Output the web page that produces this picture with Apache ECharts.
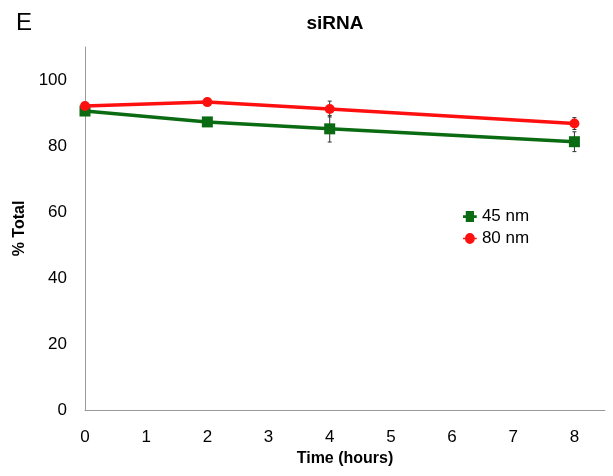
<!DOCTYPE html>
<html><head><meta charset="utf-8">
<script src="https://cdn.jsdelivr.net/npm/echarts@6/dist/echarts.min.js"></script>
<style>html,body{margin:0;padding:0;background:#fff}#c{width:613px;height:476px}</style>
</head><body><div id="c"></div>
<script>
const times = [0, 2, 4, 8];
const nm45 = [90.6, 87.3, 85.2, 81.3];
const nm45Err = [0.8, 0.6, 4.0, 3.0];
const nm80 = [92.1, 93.3, 91.2, 86.8];
const nm80Err = [0.6, 0.5, 2.4, 1.8];
const xTicks = [0,1,2,3,4,5,6,7,8];
const yTicks = [0,20,40,60,80,100];

const font = '"Liberation Sans", Arial, sans-serif';
function errSeries(vals, errs, color){
  return {
    type:'custom', silent:true, z:1,
    data: times.map((t,i)=>[t, vals[i]-errs[i], vals[i]+errs[i]]),
    renderItem:(params, api)=>{
      const lo = api.coord([api.value(0), api.value(1)]);
      const hi = api.coord([api.value(0), api.value(2)]);
      const w = 2;
      return {type:'group', children:[
        {type:'line', shape:{x1:lo[0],y1:lo[1],x2:hi[0],y2:hi[1]}, style:{stroke:color,lineWidth:1}},
        {type:'line', shape:{x1:lo[0]-w,y1:lo[1],x2:lo[0]+w,y2:lo[1]}, style:{stroke:color,lineWidth:1}},
        {type:'line', shape:{x1:hi[0]-w,y1:hi[1],x2:hi[0]+w,y2:hi[1]}, style:{stroke:color,lineWidth:1}}
      ]};
    }
  };
}
const chart = echarts.init(document.getElementById('c'), null, {renderer:'canvas'});
chart.setOption({
  animation:false,
  backgroundColor:'#fff',
  title:[
    {text:'siRNA', left:330, top:9, textAlign:'center', textStyle:{fontFamily:font, fontSize:19, fontWeight:'bold', color:'#000'}},
    {text:'E', left:11, top:6, textStyle:{fontFamily:font, fontSize:24, fontWeight:'normal', color:'#000'}}
  ],
  grid:{left:85, right:8, top:47, bottom:66},
  legend:{
    orient:'vertical', left:458, top:203, itemGap:5, itemWidth:14, itemHeight:11,
    textStyle:{fontFamily:font, fontSize:17, color:'#000'},
    data:[
      {name:'45 nm', icon:'path://M0,3 L2,3 L2,0 L8,0 L8,3 L10,3 L10,5 L8,5 L8,8 L2,8 L2,5 L0,5 Z'},
      {name:'80 nm', icon:'path://M0,3.5 L1.5,3.5 A3.5,3.5 0 1 1 8.5,3.5 L10,3.5 L10,4.5 L8.5,4.5 A3.5,3.5 0 1 1 1.5,4.5 L0,4.5 Z'}
    ]
  },
  xAxis:{
    type:'value', min:0, max:8.5, interval:1,
    name:'Time (hours)', nameLocation:'middle', nameGap:40,
    nameTextStyle:{fontFamily:font, fontSize:16, fontWeight:'bold', color:'#000'},
    axisLine:{lineStyle:{color:'#9a9a9a', width:1}},
    axisTick:{show:false}, splitLine:{show:false},
    axisLabel:{fontFamily:font, fontSize:17, color:'#000', margin:19, showMaxLabel:false,
      formatter:v=> xTicks.includes(v) ? String(v) : ''}
  },
  yAxis:{
    type:'value', min:0, max:110, interval:20,
    name:'% Total', nameLocation:'middle', nameGap:51, nameRotate:90,
    nameTextStyle:{fontFamily:font, fontSize:16, fontWeight:'bold', color:'#000'},
    axisLine:{show:true, lineStyle:{color:'#9a9a9a', width:1}},
    axisTick:{show:false}, splitLine:{show:false},
    axisLabel:{fontFamily:font, fontSize:17, color:'#000', margin:18, showMaxLabel:false,
      formatter:v=> yTicks.includes(v) ? String(v) : ''}
  },
  series:[
    errSeries(nm45, nm45Err, '#333'),
    errSeries(nm80, nm80Err, '#333'),
    {name:'45 nm', type:'line', z:3, data:times.map((t,i)=>[t,nm45[i]]),
      symbol:'rect', symbolSize:11, lineStyle:{color:'#0b6b12', width:3.5},
      itemStyle:{color:'#0b6b12'}},
    {name:'80 nm', type:'line', z:4, data:times.map((t,i)=>[t,nm80[i]]),
      symbol:'circle', symbolSize:10, lineStyle:{color:'#ff1010', width:3.5},
      itemStyle:{color:'#ff1010'}}
  ]
});
</script></body></html>
